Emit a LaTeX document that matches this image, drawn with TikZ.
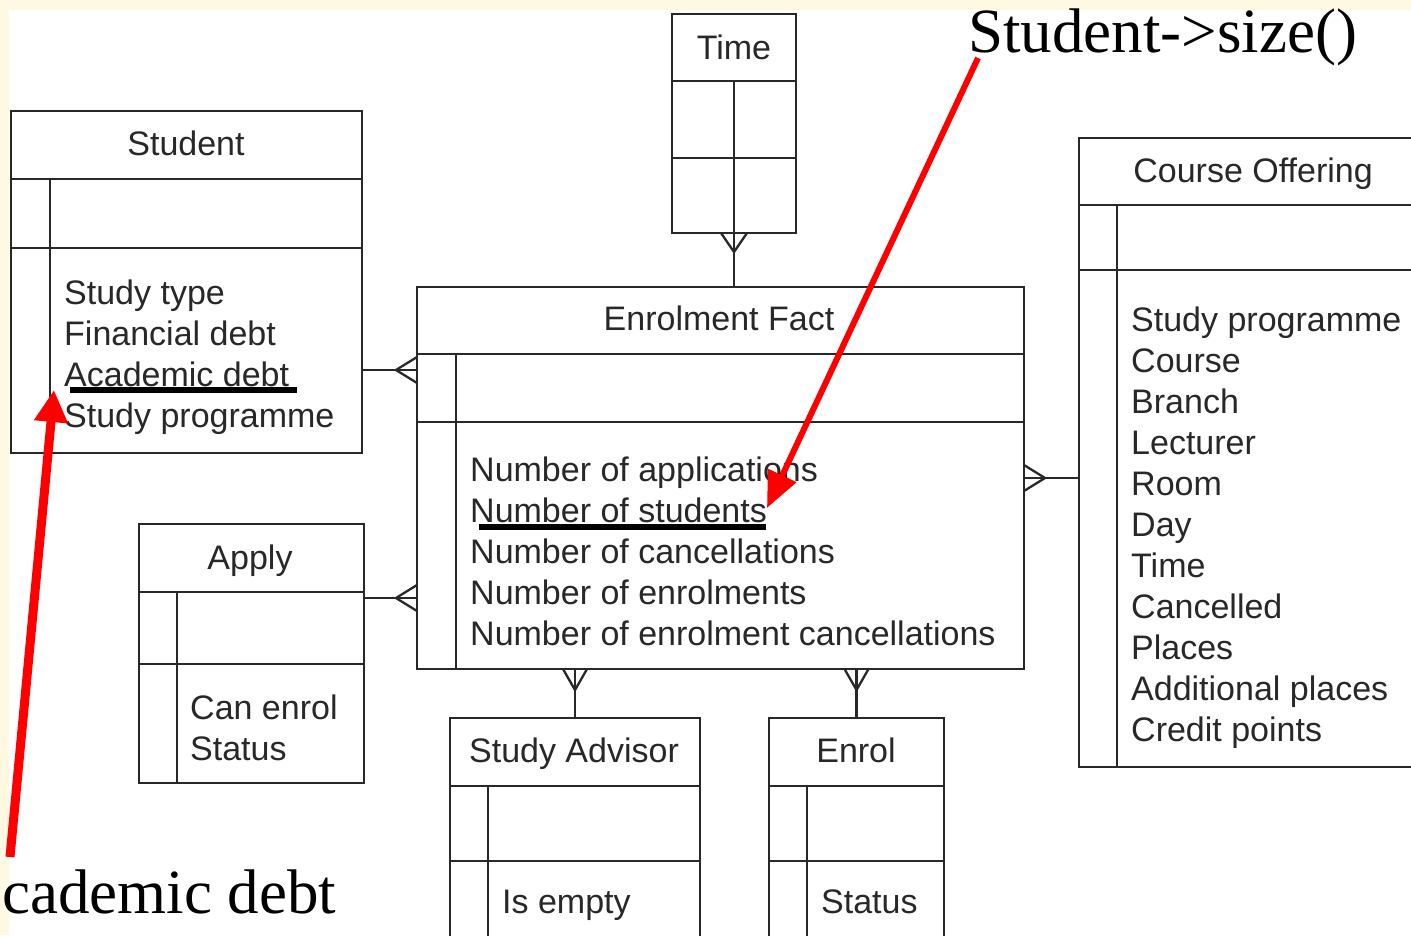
\documentclass[tikz,border=0pt]{standalone}
\usepackage{fontspec}
\setmainfont{Liberation Serif}
\newfontfamily\diagfont{Liberation Sans}
\usetikzlibrary{arrows.meta}
\definecolor{cream}{RGB}{255,248,226}
\definecolor{ink}{RGB}{40,40,40}

\tikzset{
  entity/.style={draw=ink, line width=2.3pt, fill=white, rectangle, inner sep=0pt, outer sep=0pt},
  rule/.style={draw=ink, line width=2.3pt},
  link/.style={draw=ink, line width=2.3pt},
  ttl/.style={font=\diagfont\fontsize{34}{41}\selectfont, text=ink, inner sep=0pt, anchor=base},
  % multi-line blocks are placed by the baseline of their last line
  attrs/.style={font=\diagfont\fontsize{34}{41}\selectfont, text=ink, inner sep=0pt, align=left, anchor=base west},
  note/.style={font=\fontsize{63}{70}\selectfont, inner sep=0pt, anchor=base west},
  underbar/.style={line width=6pt, black},
  pointer/.style={red, line width=6pt, -{Triangle[length=36pt,width=30pt]}},
  bigpointer/.style={red, line width=9pt, -{Triangle[length=32pt,width=32pt]}},
}

\begin{document}
\begin{tikzpicture}[x=1pt, y=-1pt]
  % page and white sheet
  \useasboundingbox (0,0) rectangle (1411,935);
  \clip (0,0) rectangle (1411,935);
  \fill[cream] (0,0) rectangle (1411,935);
  \fill[white] (9,10) rectangle (1411,935);

  % ---- entity boxes ----
  \node[entity, minimum width=351, minimum height=342] (student) at (186.5,282) {};
  \node[entity, minimum width=124, minimum height=219] (time)    at (734,123.5) {};
  \node[entity, minimum width=607, minimum height=382] (fact)    at (720.5,478) {};
  \node[entity, minimum width=348, minimum height=629] (course)  at (1253,452.5) {};
  \node[entity, minimum width=225, minimum height=259] (apply)   at (251.5,653.5) {};
  \node[entity, minimum width=250, minimum height=242] (advisor) at (575,839) {};
  \node[entity, minimum width=175, minimum height=242] (enrol)   at (856.5,839) {};

  % Student rows
  \draw[rule] (student.west |- 0,179) -- (student.east |- 0,179);
  \draw[rule] (student.west |- 0,248) -- (student.east |- 0,248);
  \draw[rule] (student.south -| 50,0) -- (50,179);
  % Time rows
  \draw[rule] (time.west |- 0,81) -- (time.east |- 0,81);
  \draw[rule] (time.west |- 0,158) -- (time.east |- 0,158);
  \draw[rule] (time.south) -- (time.center |- 0,81);
  % Enrolment Fact rows
  \draw[rule] (fact.west |- 0,354) -- (fact.east |- 0,354);
  \draw[rule] (fact.west |- 0,422) -- (fact.east |- 0,422);
  \draw[rule] (fact.south -| 456,0) -- (456,354);
  % Course Offering rows
  \draw[rule] (course.west |- 0,205) -- (course.east |- 0,205);
  \draw[rule] (course.west |- 0,270) -- (course.east |- 0,270);
  \draw[rule] (course.south -| 1117,0) -- (1117,205);
  % Apply rows
  \draw[rule] (apply.west |- 0,592) -- (apply.east |- 0,592);
  \draw[rule] (apply.west |- 0,664) -- (apply.east |- 0,664);
  \draw[rule] (apply.south -| 177,0) -- (177,592);
  % Study Advisor rows
  \draw[rule] (advisor.west |- 0,786) -- (advisor.east |- 0,786);
  \draw[rule] (advisor.west |- 0,861) -- (advisor.east |- 0,861);
  \draw[rule] (advisor.south -| 488,0) -- (488,786);
  % Enrol rows
  \draw[rule] (enrol.west |- 0,786) -- (enrol.east |- 0,786);
  \draw[rule] (enrol.west |- 0,861) -- (enrol.east |- 0,861);
  \draw[rule] (enrol.south -| 807,0) -- (807,786);

  % ---- titles ----
  \node[ttl] (studentT) at (186,155) {Student};
  \node[ttl] (timeT)    at (734,59)  {Time};
  \node[ttl] (factT)    at (719,330) {Enrolment Fact};
  \node[ttl] (courseT)  at (1253,182) {Course Offering};
  \node[ttl] (applyT)   at (250,569) {Apply};
  \node[ttl] (advisorT) at (574,762) {Study Advisor};
  \node[ttl] (enrolT)   at (856,762) {Enrol};

  % ---- attributes ----
  \node[attrs] (studentA) at (64,427) {Study type\\Financial debt\\Academic debt\\Study programme};
  \node[attrs] (factA) at (470,645) {Number of applications\\Number of students\\Number of cancellations\\Number of enrolments\\Number of enrolment cancellations};
  \node[attrs] (courseA) at (1131,741) {Study programme\\Course\\Branch\\Lecturer\\Room\\Day\\Time\\Cancelled\\Places\\Additional places\\Credit points};
  \node[attrs] (applyA) at (190,760) {Can enrol\\Status};
  \node[attrs] (advisorA) at (502,913) {Is empty};
  \node[attrs] (enrolA) at (821,913) {Status};

  % ---- relationships with crow's feet ----
  \coordinate (sf) at (fact.west |- 0,370);
  \draw[link] (student.east |- sf) -- (sf);
  \draw[link] (sf) ++(0,-13) -- ++(-21,13) -- ++(21,13);

  \coordinate (af) at (fact.west |- 0,598);
  \draw[link] (apply.east |- af) -- (af);
  \draw[link] (af) ++(0,-13) -- ++(-21,13) -- ++(21,13);

  \draw[link] (time.south) -- (time.south |- fact.north);
  \draw[link] (time.south) ++(-13,0) -- ++(13,19) -- ++(13,-19);

  \draw[link] (fact.east) -- (course.west |- fact.east);
  \draw[link] (fact.east) ++(0,-13) -- ++(21,13) -- ++(-21,13);

  \coordinate (vf) at (fact.south -| advisor.north);
  \draw[link] (advisor.north) -- (vf);
  \draw[link] (vf) ++(-12,0) -- ++(12,21) -- ++(12,-21);

  \coordinate (ef) at (fact.south -| enrol.north);
  \draw[link] (enrol.north) -- (ef);
  \draw[link] (ef) ++(-12,0) -- ++(12,21) -- ++(12,-21);

  % ---- highlights ----
  \draw[underbar] (70,390) -- (297,390);
  \draw[underbar] (479,527) -- (766,527);

  % ---- annotations ----
  \node[note] (sizeN) at (968,52) {Student->size()};
  \node[note] (debtN) at (2,913) {cademic debt};
  \coordinate (sizeTail) at (978,58);
  \coordinate (sizeTip) at (767,508);
  \coordinate (debtTail) at (10,857);
  \coordinate (debtTip) at (54,390);
  \draw[pointer] (sizeTail) -- (sizeTip);
  \draw[bigpointer] (debtTail) -- (debtTip);
\end{tikzpicture}
\end{document}
